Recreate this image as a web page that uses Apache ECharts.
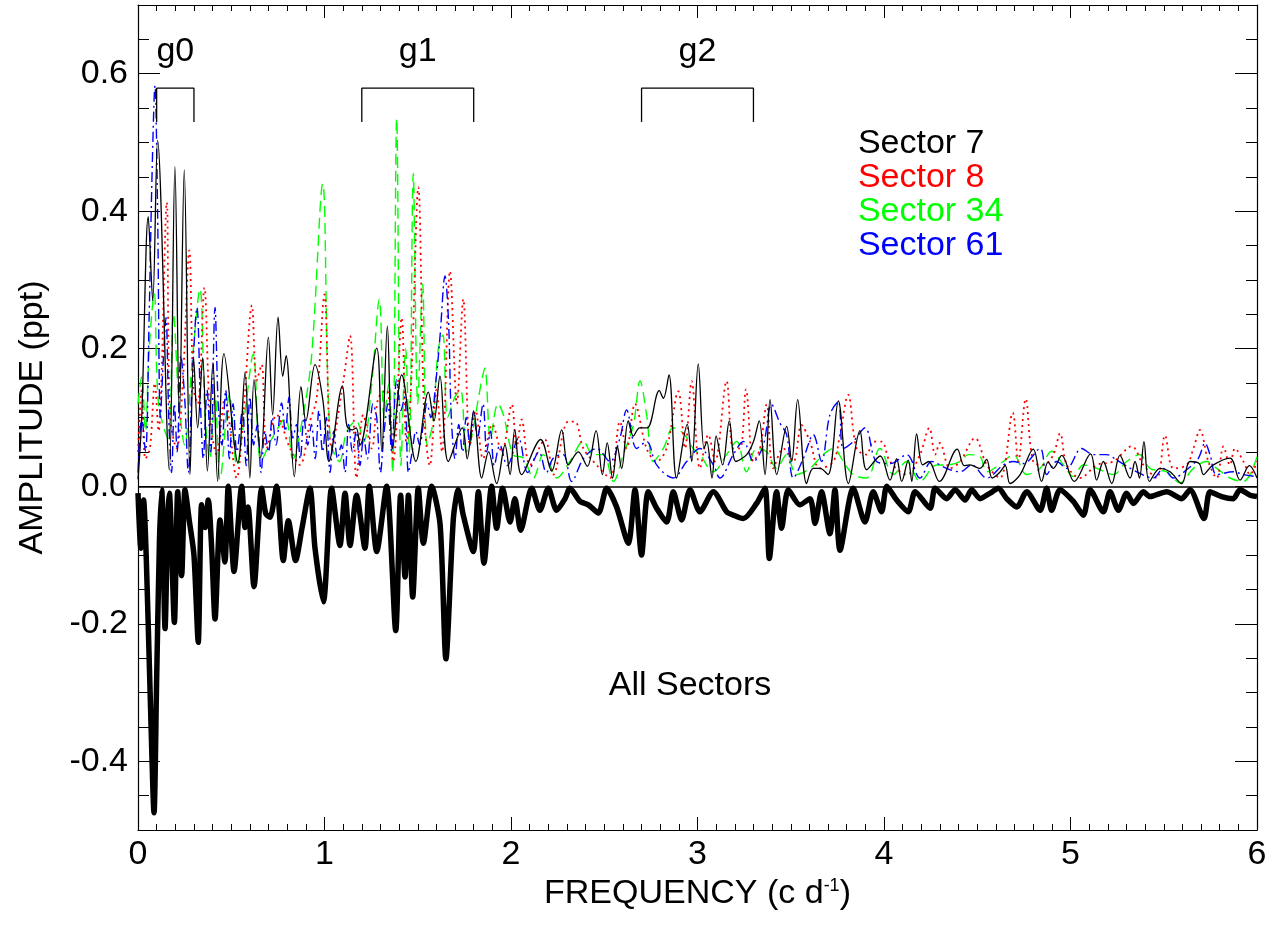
<!DOCTYPE html>
<html>
<head>
<meta charset="utf-8">
<script src="https://cdn.jsdelivr.net/npm/echarts@6/dist/echarts.min.js"></script>
<style>
html,body{margin:0;padding:0;background:#fff;}
#chart{width:1287px;height:926px;}
</style>
</head>
<body>
<div id="chart"></div>
<script>
// ---- data (frequency c/d, amplitude ppt) ----
const sector7 = [[0.0,0.01],[0.02,0.10],[0.055,0.392],[0.079,0.27],[0.105,0.503],[0.168,0.024],[0.198,0.465],[0.222,0.10],[0.248,0.46],[0.279,0.017],[0.298,0.187],[0.32,0.085],[0.347,0.187],[0.372,0.022],[0.402,0.18],[0.427,0.007],[0.461,0.193],[0.536,0.034],[0.574,0.166],[0.60,0.012],[0.622,0.155],[0.658,0.042],[0.699,0.217],[0.722,0.104],[0.751,0.246],[0.776,0.16],[0.794,0.19],[0.838,0.014],[0.874,0.145],[0.90,0.095],[0.949,0.177],[0.992,0.124],[1.024,0.036],[1.096,0.146],[1.12,0.088],[1.15,0.082],[1.17,0.085],[1.19,0.06],[1.28,0.201],[1.307,0.051],[1.337,0.233],[1.365,0.055],[1.414,0.162],[1.49,0.036],[1.557,0.137],[1.587,0.095],[1.619,0.16],[1.664,0.036],[1.739,0.085],[1.765,0.04],[1.80,0.109],[1.843,0.012],[1.88,0.05],[1.923,0.004],[1.968,0.06],[1.995,0.017],[2.02,0.082],[2.057,0.017],[2.159,0.068],[2.218,0.022],[2.272,0.082],[2.307,0.031],[2.361,0.05],[2.409,0.029],[2.456,0.081],[2.49,0.017],[2.516,0.063],[2.545,0.012],[2.57,0.058],[2.593,0.026],[2.629,0.095],[2.656,0.073],[2.69,0.085],[2.73,0.085],[2.795,0.139],[2.817,0.128],[2.847,0.162],[2.888,0.012],[2.945,0.09],[2.969,0.036],[3.004,0.178],[3.035,0.055],[3.05,0.065],[3.078,0.012],[3.10,0.073],[3.135,0.031],[3.171,0.095],[3.206,0.036],[3.264,0.046],[3.30,0.065],[3.331,0.095],[3.362,0.017],[3.389,0.126],[3.425,0.017],[3.478,0.087],[3.505,0.036],[3.537,0.126],[3.585,0.004],[3.62,0.026],[3.657,0.026],[3.70,0.017],[3.755,0.124],[3.809,0.004],[3.871,0.081],[3.907,0.024],[3.98,0.044],[4.032,0.009],[4.068,0.04],[4.095,0.007],[4.13,0.038],[4.149,0.007],[4.175,0.076],[4.207,0.031],[4.24,0.036],[4.297,0.007],[4.393,0.054],[4.43,0.03],[4.46,0.031],[4.515,0.026],[4.55,0.039],[4.58,0.012],[4.62,0.02],[4.65,0.03],[4.676,0.004],[4.73,0.017],[4.80,0.054],[4.845,0.007],[4.88,0.035],[4.908,0.026],[4.953,0.045],[5.02,0.007],[5.108,0.047],[5.14,0.009],[5.176,0.036],[5.221,0.004],[5.265,0.045],[5.32,0.012],[5.346,0.036],[5.37,0.012],[5.394,0.065],[5.423,0.007],[5.48,0.026],[5.534,0.021],[5.596,0.004],[5.64,0.036],[5.69,0.033],[5.713,0.017],[5.76,0.03],[5.855,0.041],[5.909,0.009],[5.959,0.03],[6.0,0.012]];

const sector8 = [[0.0,0.05],[0.02,0.14],[0.04,0.04],[0.064,0.055],[0.09,0.15],[0.11,0.08],[0.154,0.413],[0.171,0.104],[0.207,0.055],[0.24,0.15],[0.275,0.343],[0.297,0.143],[0.32,0.12],[0.356,0.289],[0.386,0.104],[0.422,0.046],[0.466,0.128],[0.529,0.012],[0.565,0.104],[0.611,0.263],[0.636,0.153],[0.663,0.177],[0.69,0.055],[0.743,0.104],[0.815,0.055],[0.868,0.031],[0.922,0.094],[0.958,0.128],[1.0,0.279],[1.038,0.055],[1.101,0.153],[1.137,0.219],[1.172,0.012],[1.208,0.104],[1.253,0.055],[1.288,0.128],[1.333,0.14],[1.369,0.036],[1.414,0.245],[1.44,0.06],[1.465,0.15],[1.503,0.435],[1.535,0.10],[1.565,0.03],[1.60,0.14],[1.63,0.05],[1.673,0.313],[1.71,0.12],[1.744,0.272],[1.78,0.06],[1.81,0.11],[1.85,0.04],[1.90,0.09],[1.95,0.05],[2.004,0.119],[2.03,0.055],[2.057,0.097],[2.102,0.031],[2.182,0.068],[2.227,0.017],[2.307,0.094],[2.343,0.094],[2.388,0.055],[2.459,0.031],[2.531,0.012],[2.584,0.094],[2.62,0.055],[2.665,0.12],[2.727,0.055],[2.781,0.036],[2.834,0.055],[2.897,0.138],[2.933,0.055],[2.969,0.153],[3.013,0.026],[3.058,0.075],[3.094,0.036],[3.156,0.153],[3.192,0.055],[3.228,0.055],[3.26,0.141],[3.30,0.036],[3.335,0.055],[3.371,0.119],[3.406,0.026],[3.46,0.055],[3.514,0.036],[3.558,0.089],[3.603,0.065],[3.656,0.026],[3.728,0.036],[3.764,0.075],[3.808,0.133],[3.853,0.055],[3.907,0.046],[3.942,0.065],[3.987,0.065],[4.032,0.036],[4.122,0.017],[4.193,0.046],[4.243,0.085],[4.274,0.046],[4.30,0.063],[4.354,0.026],[4.408,0.036],[4.488,0.07],[4.551,0.031],[4.622,0.012],[4.69,0.107],[4.72,0.036],[4.76,0.127],[4.80,0.036],[4.855,0.031],[4.908,0.046],[4.944,0.077],[4.98,0.031],[5.051,0.012],[5.141,0.031],[5.23,0.036],[5.328,0.058],[5.391,0.031],[5.462,0.012],[5.507,0.074],[5.552,0.026],[5.623,0.031],[5.659,0.055],[5.694,0.082],[5.739,0.036],[5.784,0.012],[5.82,0.058],[5.855,0.031],[5.882,0.055],[5.927,0.036],[5.963,0.017],[6.0,0.036]];

const sector34 = [[0.0,0.12],[0.02,0.16],[0.04,0.08],[0.06,0.2],[0.087,0.28],[0.11,0.12],[0.16,0.07],[0.19,0.25],[0.22,0.12],[0.25,0.06],[0.29,0.18],[0.332,0.287],[0.36,0.10],[0.385,0.04],[0.413,0.133],[0.44,0.01],[0.49,0.133],[0.53,0.03],[0.57,0.10],[0.618,0.192],[0.66,0.036],[0.71,0.065],[0.74,0.08],[0.79,0.10],[0.83,0.04],[0.886,0.104],[0.931,0.19],[0.99,0.44],[1.03,0.07],[1.08,0.036],[1.12,0.08],[1.17,0.095],[1.21,0.065],[1.25,0.14],[1.294,0.272],[1.32,0.10],[1.345,0.15],[1.365,0.02],[1.387,0.535],[1.41,0.03],[1.435,0.20],[1.455,0.05],[1.476,0.455],[1.50,0.12],[1.526,0.294],[1.55,0.06],[1.58,0.09],[1.61,0.20],[1.635,0.22],[1.66,0.10],[1.70,0.13],[1.73,0.14],[1.76,0.05],[1.78,0.06],[1.84,0.15],[1.86,0.172],[1.89,0.07],[1.93,0.12],[1.959,0.104],[2.012,0.046],[2.066,0.041],[2.12,0.012],[2.173,0.046],[2.209,0.031],[2.245,0.012],[2.316,0.036],[2.388,0.065],[2.441,0.046],[2.495,0.046],[2.549,0.007],[2.602,0.046],[2.656,0.089],[2.692,0.153],[2.727,0.104],[2.763,0.036],[2.817,0.055],[2.87,0.085],[2.924,0.077],[2.977,0.055],[3.013,0.046],[3.085,0.021],[3.156,0.046],[3.21,0.065],[3.263,0.021],[3.317,0.055],[3.371,0.05],[3.424,0.026],[3.478,0.046],[3.531,0.017],[3.603,0.026],[3.674,0.046],[3.728,0.055],[3.782,0.036],[3.835,0.017],[3.907,0.012],[3.978,0.055],[4.05,0.017],[4.122,0.036],[4.193,0.007],[4.283,0.031],[4.336,0.031],[4.408,0.036],[4.453,0.046],[4.515,0.043],[4.551,0.021],[4.64,0.036],[4.694,0.046],[4.765,0.017],[4.837,0.026],[4.899,0.051],[4.962,0.031],[5.015,0.014],[5.069,0.031],[5.141,0.026],[5.23,0.017],[5.301,0.036],[5.373,0.046],[5.426,0.026],[5.516,0.021],[5.587,0.005],[5.659,0.026],[5.73,0.036],[5.784,0.026],[5.855,0.012],[5.927,0.007],[6.0,0.043]];

const sector61 = [[0.0,0.02],[0.02,0.10],[0.04,0.05],[0.06,0.25],[0.075,0.45],[0.091,0.583],[0.105,0.40],[0.12,0.10],[0.135,0.18],[0.15,0.245],[0.165,0.10],[0.18,0.02],[0.195,0.12],[0.21,0.05],[0.23,0.19],[0.25,0.13],[0.27,0.02],[0.29,0.15],[0.316,0.26],[0.335,0.12],[0.35,0.04],[0.37,0.14],[0.39,0.05],[0.413,0.26],[0.43,0.12],[0.45,0.06],[0.47,0.14],[0.49,0.04],[0.51,0.12],[0.53,0.05],[0.56,0.11],[0.58,0.03],[0.60,0.13],[0.62,0.06],[0.64,0.09],[0.66,0.02],[0.68,0.08],[0.70,0.05],[0.72,0.10],[0.74,0.06],[0.77,0.121],[0.79,0.08],[0.81,0.13],[0.83,0.07],[0.85,0.09],[0.87,0.04],[0.89,0.10],[0.91,0.06],[0.93,0.09],[0.95,0.04],[0.97,0.11],[0.99,0.05],[1.01,0.10],[1.03,0.02],[1.05,0.08],[1.07,0.04],[1.09,0.06],[1.11,0.02],[1.13,0.09],[1.15,0.05],[1.17,0.08],[1.19,0.03],[1.21,0.07],[1.23,0.04],[1.26,0.12],[1.28,0.10],[1.30,0.02],[1.32,0.08],[1.34,0.12],[1.36,0.05],[1.387,0.155],[1.41,0.11],[1.43,0.13],[1.45,0.02],[1.47,0.05],[1.49,0.08],[1.51,0.06],[1.53,0.09],[1.55,0.12],[1.57,0.10],[1.60,0.16],[1.62,0.22],[1.646,0.306],[1.665,0.24],[1.68,0.10],[1.70,0.04],[1.72,0.09],[1.74,0.05],[1.76,0.10],[1.78,0.06],[1.80,0.11],[1.82,0.07],[1.85,0.12],[1.87,0.05],[1.89,0.08],[1.91,0.03],[1.94,0.06],[1.98,0.03],[2.04,0.07],[2.09,0.02],[2.15,0.05],[2.19,0.02],[2.227,0.041],[2.28,0.046],[2.325,0.007],[2.388,0.04],[2.459,0.055],[2.531,0.036],[2.584,0.07],[2.62,0.111],[2.674,0.055],[2.727,0.065],[2.781,0.031],[2.87,0.012],[2.942,0.036],[3.013,0.055],[3.085,0.031],[3.12,0.012],[3.192,0.046],[3.246,0.065],[3.30,0.036],[3.353,0.06],[3.397,0.119],[3.442,0.092],[3.478,0.075],[3.514,0.012],[3.567,0.04],[3.621,0.075],[3.665,0.036],[3.71,0.104],[3.755,0.123],[3.782,0.055],[3.835,0.065],[3.898,0.085],[3.96,0.036],[4.033,0.033],[4.122,0.046],[4.193,0.012],[4.256,0.036],[4.336,0.026],[4.408,0.021],[4.47,0.031],[4.551,0.012],[4.64,0.031],[4.694,0.036],[4.747,0.033],[4.837,0.055],[4.872,0.017],[4.926,0.036],[4.98,0.026],[5.06,0.055],[5.123,0.046],[5.194,0.046],[5.248,0.038],[5.355,0.021],[5.444,0.012],[5.498,0.026],[5.552,0.012],[5.623,0.024],[5.686,0.041],[5.721,0.063],[5.748,0.046],[5.784,0.017],[5.873,0.021],[5.927,0.017],[6.0,0.014]];

// combined spectrum of all sectors, plotted inverted
const allSectors = [[0.0,-0.01],[0.015,-0.09],[0.03,-0.02],[0.045,-0.11],[0.065,-0.30],[0.086,-0.475],[0.10,-0.28],[0.115,-0.08],[0.127,-0.005],[0.145,-0.207],[0.16,-0.04],[0.168,-0.01],[0.195,-0.198],[0.213,-0.008],[0.234,-0.13],[0.252,-0.005],[0.275,-0.05],[0.30,-0.10],[0.323,-0.227],[0.341,-0.027],[0.36,-0.06],[0.377,-0.02],[0.395,-0.09],[0.413,-0.193],[0.44,-0.049],[0.466,-0.11],[0.484,0.0],[0.515,-0.124],[0.556,0.0],[0.574,-0.06],[0.59,-0.03],[0.622,-0.146],[0.663,-0.003],[0.685,-0.04],[0.708,-0.045],[0.743,0.0],[0.779,-0.108],[0.806,-0.05],[0.845,-0.108],[0.88,-0.06],[0.922,-0.003],[0.949,-0.09],[0.994,-0.168],[1.038,-0.003],[1.083,-0.086],[1.11,-0.01],[1.137,-0.086],[1.172,-0.013],[1.217,-0.09],[1.24,0.0],[1.28,-0.095],[1.333,0.0],[1.382,-0.21],[1.408,-0.013],[1.432,-0.132],[1.45,-0.013],[1.473,-0.161],[1.503,-0.003],[1.53,-0.083],[1.575,0.0],[1.62,-0.056],[1.651,-0.251],[1.691,-0.047],[1.717,-0.005],[1.744,-0.042],[1.798,-0.095],[1.825,-0.008],[1.855,-0.112],[1.896,0.0],[1.923,-0.061],[1.955,-0.003],[1.995,-0.052],[2.021,-0.018],[2.052,-0.064],[2.111,-0.003],[2.155,-0.035],[2.20,-0.003],[2.245,-0.035],[2.29,-0.018],[2.316,-0.003],[2.37,-0.022],[2.415,-0.027],[2.468,-0.039],[2.513,-0.003],[2.566,-0.03],[2.629,-0.083],[2.665,-0.005],[2.70,-0.10],[2.736,-0.008],[2.781,-0.032],[2.835,-0.052],[2.87,-0.008],[2.915,-0.049],[2.96,-0.005],[3.013,-0.037],[3.085,-0.008],[3.156,-0.037],[3.192,-0.042],[3.246,-0.047],[3.317,-0.025],[3.362,-0.003],[3.385,-0.105],[3.424,-0.008],[3.451,-0.061],[3.487,-0.005],[3.549,-0.027],[3.603,-0.018],[3.63,-0.054],[3.665,-0.008],[3.71,-0.069],[3.737,-0.005],[3.764,-0.093],[3.835,-0.003],[3.898,-0.052],[3.942,-0.008],[3.987,-0.037],[4.015,0.0],[4.068,-0.02],[4.13,-0.037],[4.167,-0.008],[4.247,-0.032],[4.274,-0.003],[4.336,-0.018],[4.381,-0.005],[4.435,-0.02],[4.47,-0.005],[4.515,-0.018],[4.569,-0.01],[4.613,-0.003],[4.658,-0.018],[4.712,-0.03],[4.765,-0.008],[4.837,-0.035],[4.872,-0.003],[4.899,-0.035],[4.944,-0.005],[5.015,-0.022],[5.069,-0.042],[5.105,-0.005],[5.176,-0.037],[5.212,-0.008],[5.257,-0.035],[5.301,-0.01],[5.337,-0.025],[5.391,-0.008],[5.426,-0.015],[5.516,-0.008],[5.596,-0.018],[5.641,-0.005],[5.716,-0.047],[5.748,-0.008],[5.81,-0.015],[5.873,-0.018],[5.909,-0.005],[5.963,-0.013],[6.0,-0.015]];

const sectorNames = ['Sector 7','Sector 8','Sector 34','Sector 61'];
const groupNames = ['g0','g1','g2'];
const groupRanges = [[0.1,0.3],[1.2,1.8],[2.7,3.3]];
const yLabelTicks = [-0.4,-0.2,0.0,0.2,0.4,0.6];
const yMinorTicks = [-0.5,-0.45,-0.4,-0.35,-0.3,-0.25,-0.2,-0.15,-0.1,-0.05,0,0.05,0.1,0.15,0.2,0.25,0.3,0.35,0.4,0.45,0.5,0.55,0.6,0.65,0.7];

// ---- styling / layout ----
const FONT = 'Liberation Sans, Arial, Helvetica, sans-serif';
const FS = 34;
const colors = ['#000000','#ff0000','#00ff00','#0000ff'];
const legendX = 3.86, legendY0 = 0.499, legendStep = 0.0499;
const bracketTop = 0.579, bracketBottom = 0.530, groupLabelY = 0.632;

const chart = echarts.init(document.getElementById('chart'), null, {renderer:'canvas'});

const axisLineStyle = {color:'#000', width:1.2};
function xAx(pos, labels) {
  return {
    type:'value', min:0, max:6, interval:1, position:pos,
    axisLine:{show:true, onZero:false, lineStyle:axisLineStyle},
    axisTick:{show:true, inside:true, length:13, lineStyle:{color:'#000', width:1}},
    minorTick:{show:true, splitNumber:10, length:6, lineStyle:{color:'#000', width:1}},
    splitLine:{show:false}, minorSplitLine:{show:false},
    axisLabel:{show:labels, fontSize:FS, fontFamily:FONT, color:'#000', margin:8},
    name: labels ? '{n|FREQUENCY (c d}{s|-1}{n|)}' : '',
    nameLocation:'middle', nameGap:43,
    nameTextStyle:{color:'#000', fontFamily:FONT, fontSize:FS,
      rich:{n:{fontSize:FS, fontFamily:FONT, color:'#000'},
            s:{fontSize:18, fontFamily:FONT, color:'#000', verticalAlign:'top'}}}
  };
}
function yAx(pos, labels, minor) {
  const ticks = minor ? yMinorTicks : yLabelTicks;
  return {
    type:'value', min:-0.5, max:0.7, position:pos,
    axisLine:{show:!minor, onZero:false, lineStyle:axisLineStyle},
    axisTick:{show:true, inside:true, length: minor ? 11 : 22, customValues:ticks, lineStyle:{color:'#000', width:1}},
    splitLine:{show:false},
    axisLabel:{show:labels, customValues:yLabelTicks, fontSize:FS, fontFamily:FONT, color:'#000', margin:10,
      formatter:(v)=>v.toFixed(1)},
    name: labels ? 'AMPLITUDE (ppt)' : '',
    nameLocation:'middle', nameGap:88,
    nameTextStyle:{color:'#000', fontFamily:FONT, fontSize:FS}
  };
}

function lineSeries(name, data, color, type, width, z) {
  return {
    name, type:'line', data, showSymbol:false, symbol:'none', smooth:0.35,
    lineStyle:{color, width, type}, z, silent:true, animation:false
  };
}

const series = [
  lineSeries('Sector 34', sector34, colors[2], [11,6], 1.4, 3),
  lineSeries('Sector 8', sector8, colors[1], [2,4], 1.8, 4),
  lineSeries('Sector 61', sector61, colors[3], [10,4,2,4], 1.4, 5),
  lineSeries('Sector 7', sector7, colors[0], 'solid', 1.3, 6),
  {
    name:'All Sectors', type:'line', data:allSectors, showSymbol:false, symbol:'none', smooth:0.25,
    lineStyle:{color:'#000', width:5.5, join:'round'}, z:6, silent:true,
    markLine:{symbol:'none', silent:true, label:{show:false},
      lineStyle:{color:'#000', width:1.5, type:'solid'}, data:[{yAxis:0}]}
  }
];

groupRanges.forEach((r, i) => {
  series.push({
    type:'line', data:[[r[0],bracketBottom],[r[0],bracketTop],[r[1],bracketTop],[r[1],bracketBottom]],
    showSymbol:false, symbol:'none', lineStyle:{color:'#000', width:1.3}, z:7, silent:true
  });
});

const textItem = {opacity:1};
series.push({
  type:'scatter', symbolSize:0, silent:true, z:8, itemStyle:textItem,
  data: groupNames.map((g, i) => ({name:g, value:[(groupRanges[i][0]+groupRanges[i][1])/2, groupLabelY]})),
  label:{show:true, position:'inside', formatter:(p)=>p.name, fontSize:FS, fontFamily:FONT, color:'#000', opacity:1}
});

series.push({
  type:'scatter', symbolSize:0, silent:true, z:8, itemStyle:textItem,
  data: sectorNames.map((s, i) => ({name:s, value:[legendX, legendY0 - i*legendStep],
    label:{color:colors[i]}})),
  label:{show:true, position:'inside', align:'left', verticalAlign:'middle', opacity:1,
    formatter:(p)=>p.name, fontSize:FS, fontFamily:FONT}
});

series.push({
  type:'scatter', symbolSize:0, silent:true, z:8, itemStyle:textItem,
  data:[{name:'All Sectors', value:[2.96,-0.29]}],
  label:{show:true, position:'inside', formatter:(p)=>p.name, fontSize:FS, fontFamily:FONT, color:'#000', opacity:1}
});

chart.setOption({
  animation:false,
  backgroundColor:'#ffffff',
  grid:{left:138, right:30, top:5, bottom:96, containLabel:false},
  xAxis:[xAx('bottom', true), xAx('top', false)],
  yAxis:[yAx('left', true, false), yAx('right', false, false), yAx('left', false, true), yAx('right', false, true)],
  series
});
</script>
</body>
</html>
